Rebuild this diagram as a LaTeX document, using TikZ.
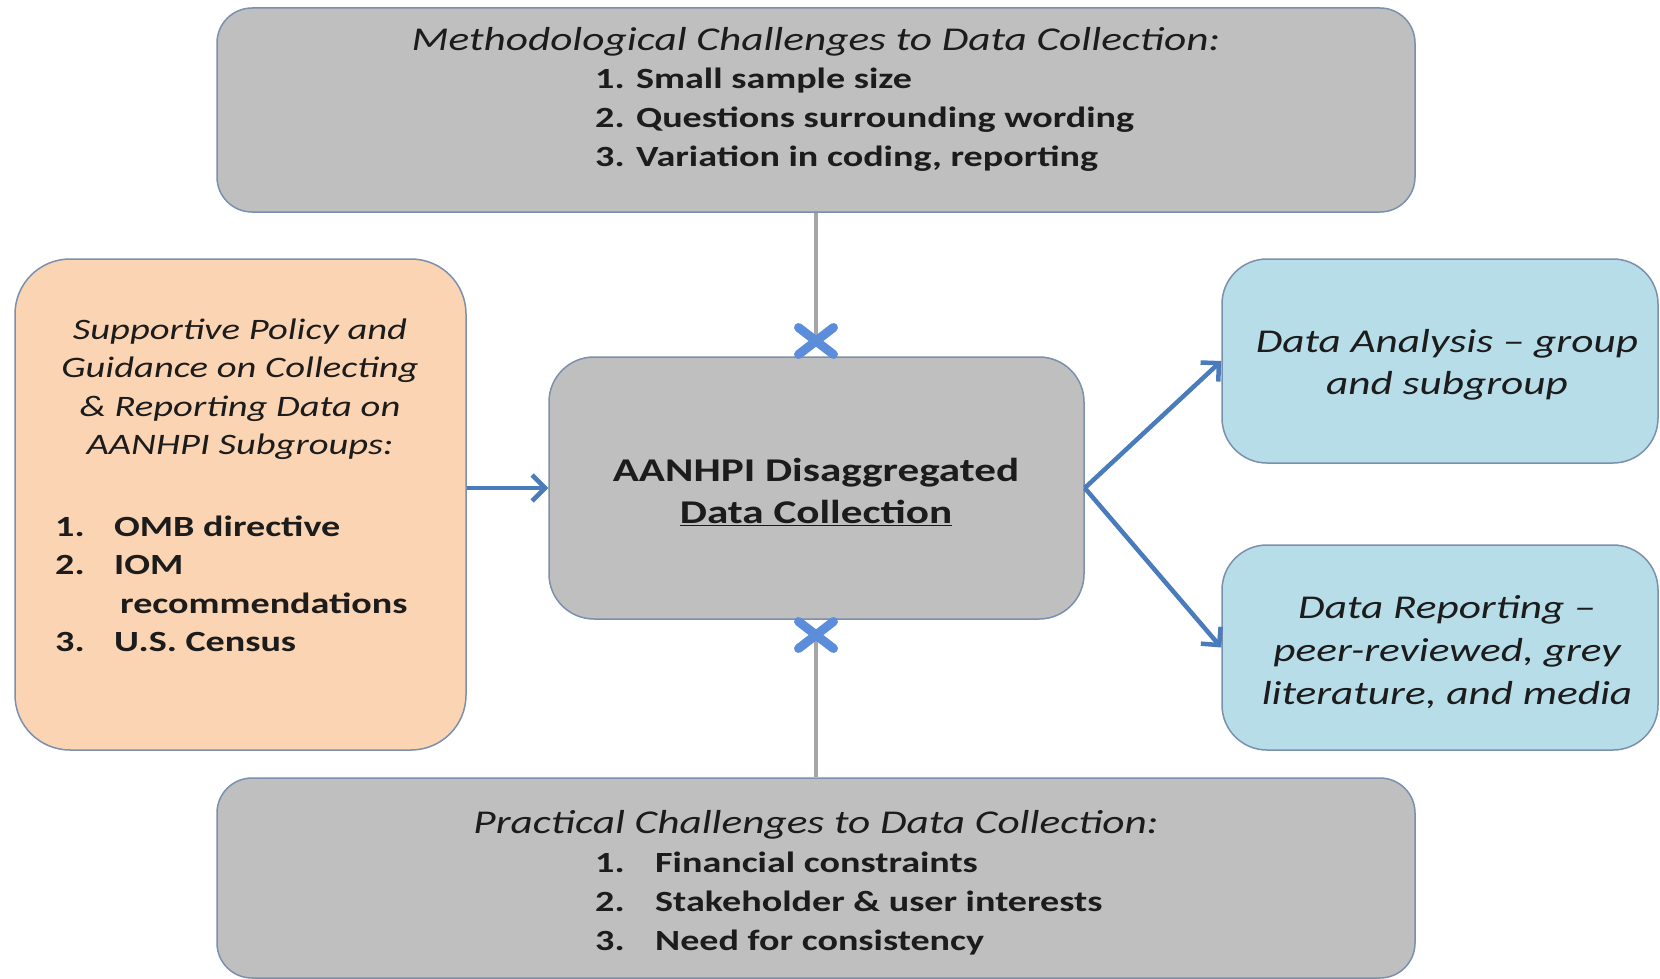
\documentclass[tikz,border=0pt]{standalone}
\usepackage{fontspec}
\setmainfont{Carlito}[FakeStretch=1.3]
\usepackage{tikz}
\usetikzlibrary{arrows.meta,shapes.misc}

\definecolor{boxgrey}{HTML}{BFBFBF}
\definecolor{boxline}{HTML}{7B8FAE}
\definecolor{peach}{HTML}{FBD4B4}
\definecolor{paleblue}{HTML}{B7DDE8}
\definecolor{arrowblue}{HTML}{4A7BBA}
\definecolor{crossblue}{HTML}{5B8DDA}
\definecolor{linkgrey}{HTML}{A6A6A6}
\definecolor{ink}{HTML}{1C1C1C}

\newcommand{\bigit}{\fontsize{33.3}{42}\selectfont\itshape}
\newcommand{\smallit}{\fontsize{29.7}{38.5}\selectfont\itshape}
\newcommand{\listbf}{\fontsize{29.3}{39}\selectfont\bfseries}

\tikzset{
  panel/.style={draw=boxline, line width=1.5pt, rounded corners=#1, inner sep=0pt},
  txt/.style={text=ink, inner sep=0pt},
  flow/.style={arrowblue, line width=4.5pt, -{Straight Barb[length=13pt,width=26pt]}},
  link/.style={linkgrey, line width=4pt},
  xmark/.style={cross out, draw=crossblue, line width=9pt, line cap=round,
    minimum width=26pt, minimum height=18pt, inner sep=0pt}
}

\begin{document}
\begin{tikzpicture}[x=1pt,y=-1pt]
    \useasboundingbox (0,0) rectangle (1660,979);
    % boxes
    \node[panel=35pt, fill=boxgrey, minimum width=1198pt, minimum height=204pt] (method) at (816,110) {};
    \node[panel=55pt, fill=peach, minimum width=451pt, minimum height=491pt] (policy) at (240.5,504.5) {};
    \node[panel=45pt, fill=boxgrey, minimum width=535pt, minimum height=262pt] (core) at (816.5,488) {};
    \node[panel=45pt, fill=paleblue, minimum width=436pt, minimum height=204pt] (analysis) at (1440,361) {};
    \node[panel=45pt, fill=paleblue, minimum width=436pt, minimum height=205pt] (reporting) at (1440,647.5) {};
    \node[panel=35pt, fill=boxgrey, minimum width=1198pt, minimum height=200pt] (practical) at (816,878) {};

    % top box text
    \node[txt, font=\bigit] (methodtitle) at (816,42) {Methodological Challenges to Data Collection:};
    \node[txt, anchor=west, align=left, font=\listbf] (methodlist) at (595,120)
      {1. Small sample size\\2. Questions surrounding wording\\3. Variation in coding, reporting};

    % left box text
    \node[txt, align=center, font=\smallit] (policytitle) at (240,389)
      {Supportive Policy and\\Guidance on Collecting\\\& Reporting Data on\\AANHPI Subgroups:};
    \node[txt, anchor=west, align=left, font=\fontsize{29.3}{38.5}\selectfont\bfseries] (policylist) at (55,584)
      {\makebox[59pt][l]{1.}OMB directive\\
       \makebox[59pt][l]{2.}IOM\\
       \hspace{65pt}recommendations\\
       \makebox[59pt][l]{3.}U.S. Census};

    % center text
    \node[txt, align=center, font=\fontsize{33.2}{42}\selectfont\bfseries] (coretext) at (816,492)
      {AANHPI Disaggregated\\\underline{Data Collection}};

    % right box text
    \node[txt, align=center, font=\bigit] (analysistext) at (1447,365)
      {Data Analysis -- group\\and subgroup};
    \node[txt, align=center, font=\fontsize{33.3}{43}\selectfont\itshape] (reportingtext) at (1447,652)
      {Data Reporting --\\peer-reviewed, grey\\literature, and media};

    % bottom box text
    \node[txt, font=\bigit] (practicaltitle) at (816,825) {Practical Challenges to Data Collection:};
    \node[txt, anchor=west, align=left, font=\listbf] (practicallist) at (595,904)
      {\makebox[60pt][l]{1.}Financial constraints\\
       \makebox[60pt][l]{2.}Stakeholder \& user interests\\
       \makebox[60pt][l]{3.}Need for consistency};

    % connectors
    \coordinate (xtop) at (816,341);
    \coordinate (xbot) at (816,635);
    \draw[link] (method.south -| xtop) -- (xtop);
    \draw[link] (xbot) -- (practical.north -| xbot);
    \node[xmark] (xtopmark) at (xtop) {};
    \node[xmark] (xbotmark) at (xbot) {};

    \draw[flow] (policy.east |- core.west) -- (core.west);
    \draw[flow] (core.east) -- (analysis.west);
    \draw[flow] (core.east) -- (reporting.west);
\end{tikzpicture}
\end{document}
